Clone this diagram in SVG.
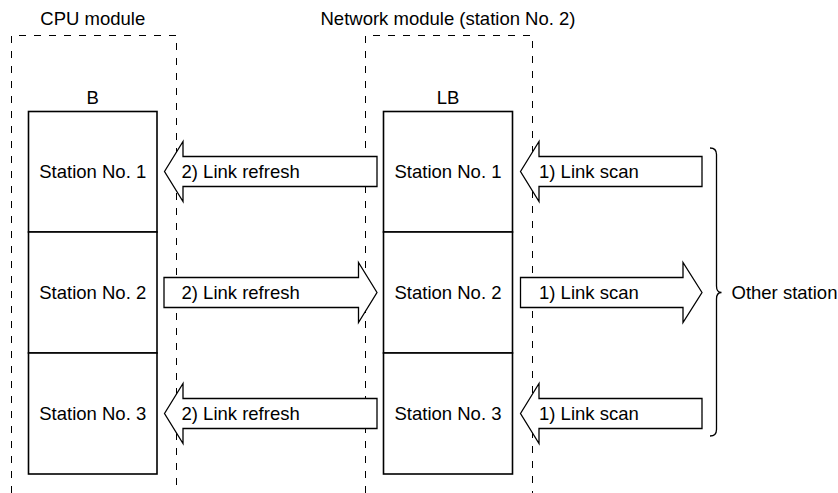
<svg xmlns="http://www.w3.org/2000/svg" width="838" height="493" viewBox="0 0 838 493">
<style>
text{font-family:"Liberation Sans",Arial,sans-serif;font-size:18.5px;fill:#000}
.c{text-anchor:middle}
.dash{fill:none;stroke:#000;stroke-width:1;stroke-dasharray:7 8}
.box{fill:#fff;stroke:#000;stroke-width:1.6}
.arr{fill:#fff;stroke:#000;stroke-width:1.3;stroke-linejoin:miter}
.brace{fill:none;stroke:#000;stroke-width:1.3}
</style>
<rect width="838" height="493" fill="#fff"/>
<g id="cpu-module">
<path class="dash" d="M11.5,493 V35.5 H176.5 V493"/>
<text class="c" x="92.75" y="25">CPU module</text>
<text class="c" x="92.75" y="104">B</text>
</g>
<g id="network-module">
<path class="dash" d="M365.5,493 V35.5 H532.5 V493"/>
<text class="c" x="448" y="25">Network module (station No. 2)</text>
<text class="c" x="448" y="104">LB</text>
</g>
<g id="b-station1"><rect class="box" x="28.5" y="111.5" width="128.5" height="120.5"/><text class="c" x="92.75" y="178">Station No. 1</text></g>
<g id="b-station2"><rect class="box" x="28.5" y="232" width="128.5" height="121"/><text class="c" x="92.75" y="299">Station No. 2</text></g>
<g id="b-station3"><rect class="box" x="28.5" y="353" width="128.5" height="121"/><text class="c" x="92.75" y="420">Station No. 3</text></g>
<g id="lb-station1"><rect class="box" x="383.5" y="111.5" width="129" height="120.5"/><text class="c" x="448" y="178">Station No. 1</text></g>
<g id="lb-station2"><rect class="box" x="383.5" y="232" width="129" height="121"/><text class="c" x="448" y="299">Station No. 2</text></g>
<g id="lb-station3"><rect class="box" x="383.5" y="353" width="129" height="121"/><text class="c" x="448" y="420">Station No. 3</text></g>
<g id="other-station">
<path class="brace" d="M710,148 Q716.5,148 716.5,154.5 L716.5,286 Q716.5,292.5 721.5,292.5 Q716.5,292.5 716.5,299 L716.5,429.5 Q716.5,436 710,436"/>
<text x="731.5" y="299">Other station</text>
</g>
<g id="connectors">
<polygon class="arr" points="164.5,171.5 183,141.5 183,156.5 377,156.5 377,186.5 183,186.5 183,201.5"/>
<text x="181.5" y="178">2) Link refresh</text>
<polygon class="arr" points="520.5,171.5 539,141.5 539,156.5 702,156.5 702,186.5 539,186.5 539,201.5"/>
<text x="539" y="178">1) Link scan</text>
<polygon class="arr" points="377,292.5 358.5,262.5 358.5,277.5 164,277.5 164,307.5 358.5,307.5 358.5,322.5"/>
<text x="181.5" y="299">2) Link refresh</text>
<polygon class="arr" points="702,292.5 683,262.5 683,277.5 520.5,277.5 520.5,307.5 683,307.5 683,322.5"/>
<text x="539" y="299">1) Link scan</text>
<polygon class="arr" points="164.5,413.5 183,383.5 183,398.5 377,398.5 377,428.5 183,428.5 183,443.5"/>
<text x="181.5" y="420">2) Link refresh</text>
<polygon class="arr" points="520.5,413.5 539,383.5 539,398.5 702,398.5 702,428.5 539,428.5 539,443.5"/>
<text x="539" y="420">1) Link scan</text>
</g>
</svg>
